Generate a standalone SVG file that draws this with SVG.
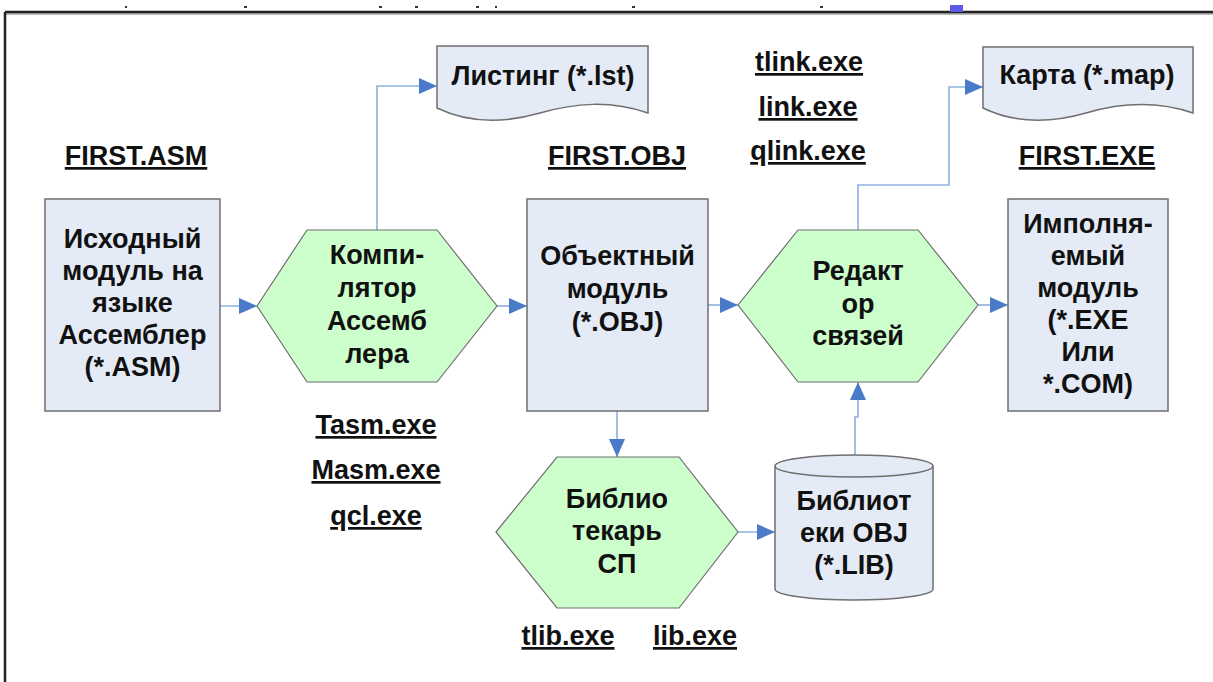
<svg xmlns="http://www.w3.org/2000/svg" width="1213" height="682" viewBox="0 0 1213 682">
<defs>
<marker id="arr" markerUnits="userSpaceOnUse" markerWidth="18" markerHeight="16" refX="18" refY="8" orient="auto">
<path d="M0,0 L18,8 L0,16 Z" fill="#4a7bc8"/>
</marker>
<style>
.box{fill:#e4ebf6;stroke:#6f6f6f;stroke-width:1.5}
.hex{fill:#ccffcc;stroke:#6f6f6f;stroke-width:1.2}
.t{font-family:"Liberation Sans",Arial,sans-serif;font-weight:bold;font-size:27px;fill:#111;text-anchor:middle}
.u{text-decoration:underline}
.c{fill:none;stroke:#8eb0e0;stroke-width:1.6}
</style>
</defs>
<rect width="1213" height="682" fill="#fff"/>
<g id="frame">
<line x1="5" y1="14" x2="1213" y2="14" stroke="#bbb" stroke-width="2"/>
<line x1="5" y1="12" x2="1213" y2="12" stroke="#222" stroke-width="2.5"/>
<line x1="5" y1="12" x2="5" y2="682" stroke="#222" stroke-width="2.5"/>
<rect x="950" y="5" width="13" height="7" fill="#5a5ae6"/>
<g fill="#333">
<rect x="125" y="6" width="2" height="2"/>
<rect x="244" y="6" width="3" height="2"/>
<rect x="379" y="6" width="3" height="2"/>
<rect x="415" y="6" width="3" height="2"/>
<rect x="476" y="6" width="3" height="2"/>
<rect x="495" y="6" width="2" height="2"/>
<rect x="632" y="6" width="3" height="2"/>
<rect x="820" y="6" width="3" height="2"/>
</g>
</g>
<g id="connectors">
<path class="c" d="M220,306 H257" marker-end="url(#arr)"/>
<path class="c" d="M497,306 H527" marker-end="url(#arr)"/>
<path class="c" d="M708,305 H738" marker-end="url(#arr)"/>
<path class="c" d="M978,305 H1008" marker-end="url(#arr)"/>
<path class="c" d="M377,230 V86 H437" marker-end="url(#arr)"/>
<path class="c" d="M858,230 V185 H949 V87 H983" marker-end="url(#arr)"/>
<path class="c" d="M617,411 V457" marker-end="url(#arr)"/>
<path class="c" d="M738,532 H775" marker-end="url(#arr)"/>
<path class="c" d="M855,455 V417 H858 V382" marker-end="url(#arr)"/>
</g>
<g id="src">
<rect class="box" x="45" y="199" width="175" height="212"/>
<text class="t" x="132.5" y="248">Исходный</text>
<text class="t" x="132.5" y="280">модуль на</text>
<text class="t" x="132.5" y="312">языке</text>
<text class="t" x="132.5" y="344">Ассемблер</text>
<text class="t" x="132.5" y="376">(*.ASM)</text>
</g>
<g id="compiler">
<polygon class="hex" points="257,306 307,230 437,230 497,306 437,382 307,382"/>
<text class="t" x="377" y="264">Компи-</text>
<text class="t" x="377" y="297">лятор</text>
<text class="t" x="377" y="330">Ассемб</text>
<text class="t" x="377" y="363">лера</text>
</g>
<g id="listing">
<path class="box" d="M437,46 H648 V113 C610,100 575,103 540,113 C505,123 470,124 437,108 Z"/>
<text class="t" x="543" y="85">Листинг (*.lst)</text>
</g>
<g id="obj">
<rect class="box" x="527" y="199" width="181" height="212"/>
<text class="t" x="617.5" y="265">Объектный</text>
<text class="t" x="617.5" y="298">модуль</text>
<text class="t" x="617.5" y="331">(*.OBJ)</text>
</g>
<g id="linker">
<polygon class="hex" points="738,305 798,230 918,230 978,305 918,382 798,382"/>
<text class="t" x="858" y="280">Редакт</text>
<text class="t" x="858" y="313">ор</text>
<text class="t" x="858" y="345">связей</text>
</g>
<g id="map">
<path class="box" d="M983,47 H1193 V113 C1155,100 1120,103 1086,113 C1051,123 1016,124 983,108 Z"/>
<text class="t" x="1087" y="84">Карта (*.map)</text>
</g>
<g id="exe">
<rect class="box" x="1008" y="199" width="160" height="212"/>
<text class="t" x="1088" y="233">Имполня-</text>
<text class="t" x="1088" y="265">емый</text>
<text class="t" x="1088" y="297">модуль</text>
<text class="t" x="1088" y="329">(*.EXE</text>
<text class="t" x="1088" y="361">Или</text>
<text class="t" x="1088" y="393">*.COM)</text>
</g>
<g id="librarian">
<polygon class="hex" points="496,532 557,457 679,457 738,532 679,608 557,608"/>
<text class="t" x="617" y="508">Библио</text>
<text class="t" x="617" y="540">текарь</text>
<text class="t" x="617" y="573">СП</text>
</g>
<g id="libfile">
<path class="box" d="M775,466 A79,11 0 0 1 933,466 V589 A79,11 0 0 1 775,589 Z"/>
<path class="box" d="M775,466 A79,11 0 0 0 933,466" style="fill:none"/>
<text class="t" x="854" y="510">Библиот</text>
<text class="t" x="854" y="542">еки OBJ</text>
<text class="t" x="854" y="574">(*.LIB)</text>
</g>
<g id="labels">
<text class="t u" x="136" y="165">FIRST.ASM</text>
<text class="t u" x="617" y="165">FIRST.OBJ</text>
<text class="t u" x="1087" y="165">FIRST.EXE</text>
<text class="t u" x="809" y="71">tlink.exe</text>
<text class="t u" x="808" y="116">link.exe</text>
<text class="t u" x="808" y="160">qlink.exe</text>
<text class="t u" x="376" y="434">Tasm.exe</text>
<text class="t u" x="376" y="479">Masm.exe</text>
<text class="t u" x="376" y="525">qcl.exe</text>
<text class="t u" x="568" y="645">tlib.exe</text>
<text class="t u" x="695" y="645">lib.exe</text>
</g>
</svg>
